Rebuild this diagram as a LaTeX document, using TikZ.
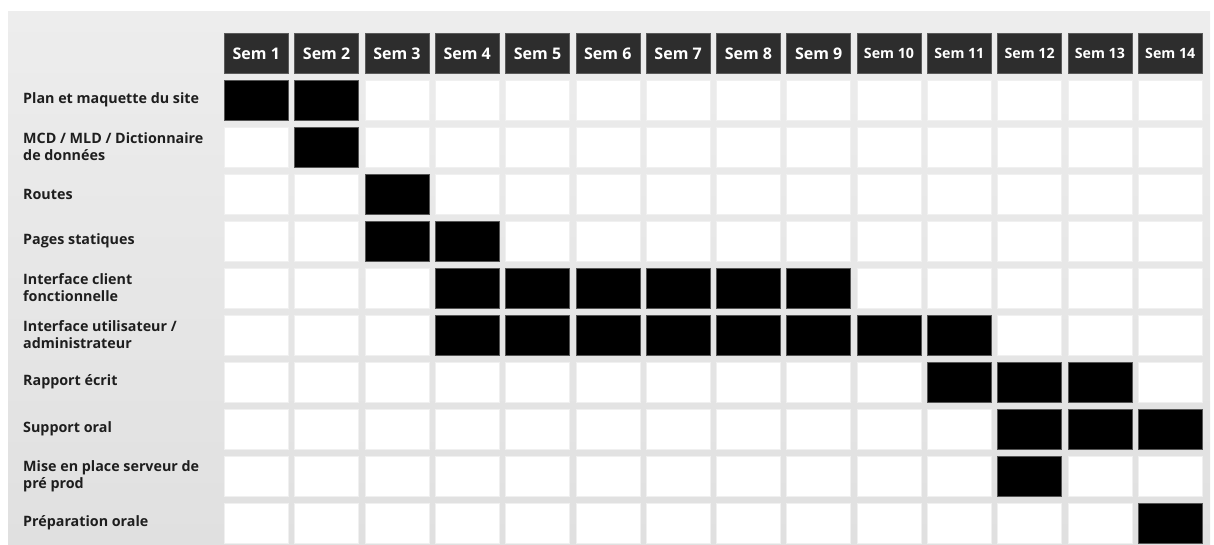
\documentclass[tikz,border=0pt]{standalone}
\usepackage{fontspec}
\setmainfont{Open Sans}
\definecolor{panelT}{HTML}{EDEDED}
\definecolor{panelB}{HTML}{E0E0E0}
\definecolor{headF}{HTML}{2D2D2D}
\definecolor{headD}{HTML}{5A5A5A}
\definecolor{blackD}{HTML}{555555}
\definecolor{whiteD}{HTML}{F0F0F0}
\definecolor{labT}{HTML}{1E1E1E}
\begin{document}
\begin{tikzpicture}[x=1pt,y=-1pt,
  wcell/.style={draw=whiteD, fill=white, line width=0.6pt, minimum width=64pt, minimum height=40pt, inner sep=0pt, anchor=north west},
  bcell/.style={wcell, fill=black, draw=blackD},
  hcell/.style={wcell, fill=headF, draw=headD, text=white, font=\bfseries\fontsize{16}{18}\selectfont},
  hcellsmall/.style={hcell, font=\bfseries\fontsize{14.2}{18}\selectfont},
  lab/.style={anchor=west, align=left, inner sep=0pt, text=labT, font=\bfseries\fontsize{14.3}{17}\selectfont}]
\useasboundingbox (0,0) rectangle (1214,544);
\shade[top color=panelT, bottom color=panelB] (8,11) rectangle (1210,544);
% headers
\foreach \i in {1,...,9}{
  \node[hcell] (h-\i) at ({224+(\i-1)*70.3},33) {Sem \i};
}
\foreach \i in {10,...,14}{
  \node[hcellsmall] (h-\i) at ({224+(\i-1)*70.3},33) {Sem \i};
}
% white cells
\foreach \j in {1,...,10}{
  \foreach \i in {1,...,14}{
    \node[wcell] (c-\i-\j) at ({224+(\i-1)*70.3},{80+(\j-1)*47}) {};
  }
}
% black cells
\foreach \i/\j in {1/1,2/1,2/2,3/3,3/4,4/4,4/5,5/5,6/5,7/5,8/5,9/5,
                   4/6,5/6,6/6,7/6,8/6,9/6,10/6,11/6,11/7,12/7,13/7,
                   12/8,13/8,14/8,12/9,14/10}{
  \node[bcell] (b-\i-\j) at ({224+(\i-1)*70.3},{80+(\j-1)*47}) {};
}
% labels
\foreach \j/\t in {1/{Plan et maquette du site},
                   2/{MCD / MLD / Dictionnaire\\de données},
                   3/{Routes},
                   4/{Pages statiques},
                   5/{Interface client\\fonctionnelle},
                   6/{Interface utilisateur /\\administrateur},
                   7/{Rapport écrit},
                   8/{Support oral},
                   9/{Mise en place serveur de\\pré prod},
                   10/{Préparation orale}}{
  \node[lab] (l-\j) at (23,{100+(\j-1)*47}) {\t};
}
\end{tikzpicture}
\end{document}
